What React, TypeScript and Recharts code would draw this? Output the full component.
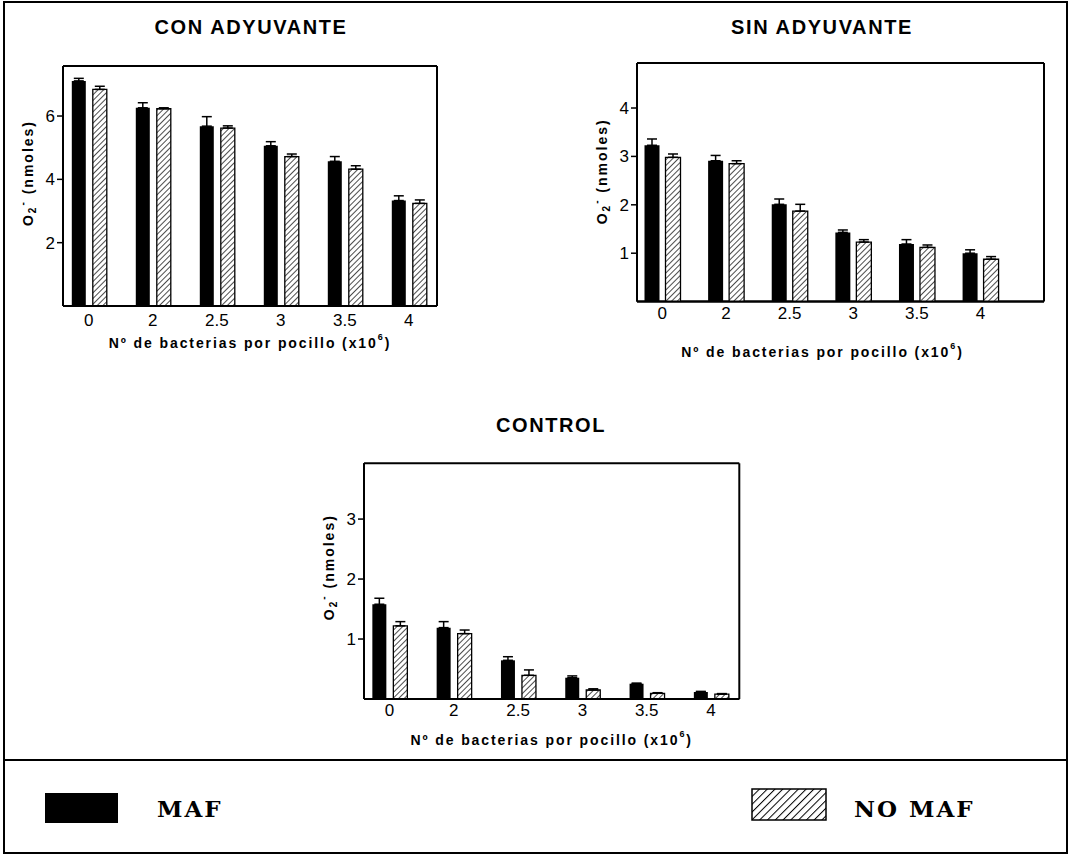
import React from "react"
import { BarChart, Bar, XAxis, YAxis, ErrorBar, CartesianGrid } from "recharts"

const CATEGORIES = ["0", "2", "2.5", "3", "3.5", "4"]
const SERIES = ["MAF", "NO MAF"]

// CON ADYUVANTE
const CON_MAF = [7.11, 6.26, 5.68, 5.06, 4.57, 3.33]
const CON_MAF_ERR = [0.08, 0.16, 0.3, 0.13, 0.15, 0.15]
const CON_NOMAF = [6.84, 6.23, 5.62, 4.72, 4.32, 3.24]
const CON_NOMAF_ERR = [0.1, 0.03, 0.07, 0.08, 0.11, 0.11]

// SIN ADYUVANTE
const SIN_MAF = [3.23, 2.91, 2.01, 1.43, 1.19, 1.0]
const SIN_MAF_ERR = [0.13, 0.11, 0.11, 0.05, 0.09, 0.07]
const SIN_NOMAF = [2.98, 2.85, 1.87, 1.23, 1.12, 0.875]
const SIN_NOMAF_ERR = [0.07, 0.06, 0.14, 0.05, 0.05, 0.055]

// CONTROL
const CTRL_MAF = [1.58, 1.19, 0.645, 0.355, 0.255, 0.117]
const CTRL_MAF_ERR = [0.1, 0.1, 0.06, 0.03, 0.01, 0.01]
const CTRL_NOMAF = [1.22, 1.09, 0.395, 0.15, 0.095, 0.08]
const CTRL_NOMAF_ERR = [0.07, 0.06, 0.09, 0.02, 0.01, 0.01]

const CON_TICKS = [2, 4, 6]
const SIN_TICKS = [1, 2, 3, 4]
const CTRL_TICKS = [1, 2, 3]

const SANS = '"Liberation Sans", Arial, sans-serif'
const SERIF = '"DejaVu Serif", serif'

function buildRows(maf: number[], mafErr: number[], nomaf: number[], nomafErr: number[]) {
  return CATEGORIES.map((cat, i) => ({
    cat,
    maf: maf[i],
    mafErr: [0, mafErr[i]],
    nomaf: nomaf[i],
    nomafErr: [0, nomafErr[i]],
  }))
}

// frame of the plot area: lines on the edges of the chart offset
const frameRows = ({ offset }: any) => [offset.top, offset.top + offset.height]
const frameCols = ({ offset }: any) => [offset.left, offset.left + offset.width]

interface PanelProps {
  id: string
  data: ReturnType<typeof buildRows>
  ticks: number[]
  yMax: number
  left: number
  top: number
  width: number
  margin: { top: number; right: number; bottom: number; left: number }
  padding: { left: number; right: number }
  barSize: number
  barGap: number
  xTickMargin: number
  xLabelDy: number
  xLabelDx: number
  yLabelShift: number
}

function Panel(p: PanelProps) {
  const renderYLabel = (props: any) => {
    const vb = props.viewBox
    const cx = vb.x + vb.width - 35
    const cy = vb.y + vb.height / 2 - p.yLabelShift
    return (
      <text
        x={cx}
        y={cy}
        transform={`rotate(-90 ${cx} ${cy})`}
        textAnchor="middle"
        dominantBaseline="central"
        fontFamily={SANS}
        fontWeight="bold"
        fontSize={14}
        fill="#000"
        style={{ letterSpacing: 2 }}
      >
        O
        <tspan dy={4} fontSize={10}>2</tspan>
        <tspan dy={-10} fontSize={10}>-</tspan>
        <tspan dy={6}> (nmoles)</tspan>
      </text>
    )
  }

  const renderXLabel = (props: any) => {
    const vb = props.viewBox
    const cx = vb.x + vb.width / 2 + p.xLabelDx
    const cy = vb.y + p.xLabelDy
    return (
      <text
        x={cx}
        y={cy}
        textAnchor="middle"
        dominantBaseline="central"
        fontFamily={SANS}
        fontWeight="bold"
        fontSize={14}
        fill="#000"
        style={{ letterSpacing: 1.9 }}
      >
        Nº de bacterias por pocillo (x10
        <tspan dy={-6} fontSize={9}>6</tspan>
        <tspan dy={6}>)</tspan>
      </text>
    )
  }

  return (
    <div style={{ position: "absolute", left: p.left, top: p.top }}>
      <BarChart
        width={p.width}
        height={330}
        data={p.data}
        margin={p.margin}
        barGap={p.barGap}
        barSize={p.barSize}
      >
        <defs>
          <pattern
            id={`hatch-${p.id}`}
            patternUnits="userSpaceOnUse"
            width={4}
            height={4}
            patternTransform="rotate(45)"
          >
            <rect width={4} height={4} fill="#fff" />
            <line x1={0} y1={0} x2={0} y2={4} stroke="#000" strokeWidth={1.4} />
          </pattern>
        </defs>
        <CartesianGrid
          stroke="#000"
          strokeWidth={2}
          horizontalCoordinatesGenerator={frameRows}
          verticalCoordinatesGenerator={frameCols}
        />
        <XAxis
          dataKey="cat"
          height={30}
          padding={p.padding}
          tickLine={false}
          tickSize={0}
          tickMargin={p.xTickMargin}
          axisLine={{ stroke: "#000", strokeWidth: 2 }}
          tick={{ fill: "#000", fontSize: 17, fontFamily: SANS }}
          label={renderXLabel}
        />
        <YAxis
          width={50}
          domain={[0, p.yMax]}
          ticks={p.ticks}
          allowDataOverflow
          tickSize={6}
          tickMargin={2}
          tickLine={{ stroke: "#000", strokeWidth: 1.5 }}
          axisLine={{ stroke: "#000", strokeWidth: 2 }}
          tick={{ fill: "#000", fontSize: 17, fontFamily: SANS }}
          label={renderYLabel}
        />
        <Bar dataKey="maf" name={SERIES[0]} fill="#000" isAnimationActive={false}>
          <ErrorBar dataKey="mafErr" width={5} stroke="#000" strokeWidth={1.5} direction="y" />
        </Bar>
        <Bar
          dataKey="nomaf"
          name={SERIES[1]}
          fill={`url(#hatch-${p.id})`}
          stroke="#000"
          strokeWidth={1.3}
          isAnimationActive={false}
        >
          <ErrorBar dataKey="nomafErr" width={5} stroke="#000" strokeWidth={1.5} direction="y" />
        </Bar>
      </BarChart>
    </div>
  )
}

export default function App() {
  const titleStyle = {
    fontFamily: SANS,
    fontWeight: "bold" as const,
    fontSize: 20,
    letterSpacing: 1.6,
  }
  const legendText = {
    fontFamily: SERIF,
    fontWeight: "bold" as const,
    fontSize: 23,
    letterSpacing: 2,
  }
  return (
    <div style={{ position: "absolute", left: 0, top: 0, width: 1071, height: 856, background: "#fff" }}>
      <svg width={1071} height={856} style={{ position: "absolute", left: 0, top: 0 }}>
        <defs>
          <pattern
            id="legend-hatch"
            patternUnits="userSpaceOnUse"
            width={5.5}
            height={5.5}
            patternTransform="rotate(45)"
          >
            <rect width={5.5} height={5.5} fill="#fff" />
            <line x1={0} y1={0} x2={0} y2={5.5} stroke="#000" strokeWidth={2} />
          </pattern>
        </defs>
        <rect x={4} y={2} width={1063} height={851} fill="none" stroke="#000" strokeWidth={2} />
        <line x1={4} y1={760} x2={1067} y2={760} stroke="#000" strokeWidth={2} />
        <text x={251} y={34} textAnchor="middle" fill="#000" style={titleStyle}>
          CON ADYUVANTE
        </text>
        <text x={822} y={33.5} textAnchor="middle" fill="#000" style={titleStyle}>
          SIN ADYUVANTE
        </text>
        <text x={551} y={432} textAnchor="middle" fill="#000" style={titleStyle}>
          CONTROL
        </text>
        <rect x={45} y={793} width={73} height={30} fill="#000" />
        <text x={157} y={817} fill="#000" style={legendText}>
          {SERIES[0]}
        </text>
        <rect x={752} y={789} width={74} height={31} fill="url(#legend-hatch)" stroke="#000" strokeWidth={1.5} />
        <text x={854} y={817} fill="#000" style={legendText}>
          {SERIES[1]}
        </text>
      </svg>

      <Panel
        id="con"
        data={buildRows(CON_MAF, CON_MAF_ERR, CON_NOMAF, CON_NOMAF_ERR)}
        ticks={CON_TICKS}
        yMax={7.58}
        left={0}
        top={40}
        width={470}
        margin={{ top: 26, right: 33, bottom: 34, left: 13 }}
        padding={{ left: -6.2, right: -3.8 }}
        barSize={14}
        barGap={7}
        xTickMargin={8}
        xLabelDy={37}
        xLabelDx={0}
        yLabelShift={13}
      />
      <Panel
        id="sin"
        data={buildRows(SIN_MAF, SIN_MAF_ERR, SIN_NOMAF, SIN_NOMAF_ERR)}
        ticks={SIN_TICKS}
        yMax={4.93}
        left={570}
        top={40}
        width={500}
        margin={{ top: 23, right: 26, bottom: 38.4, left: 17 }}
        padding={{ left: -6.5, right: 31.8 }}
        barSize={15}
        barGap={6}
        xTickMargin={5.2}
        xLabelDy={50}
        xLabelDx={-18}
        yLabelShift={11}
      />
      <Panel
        id="ctrl"
        data={buildRows(CTRL_MAF, CTRL_MAF_ERR, CTRL_NOMAF, CTRL_NOMAF_ERR)}
        ticks={CTRL_TICKS}
        yMax={3.93}
        left={300}
        top={440}
        width={470}
        margin={{ top: 23.3, right: 30.7, bottom: 41, left: 14 }}
        padding={{ left: -6.65, right: -3.85 }}
        barSize={14}
        barGap={7}
        xTickMargin={4.6}
        xLabelDy={41}
        xLabelDx={0}
        yLabelShift={14}
      />
    </div>
  )
}
